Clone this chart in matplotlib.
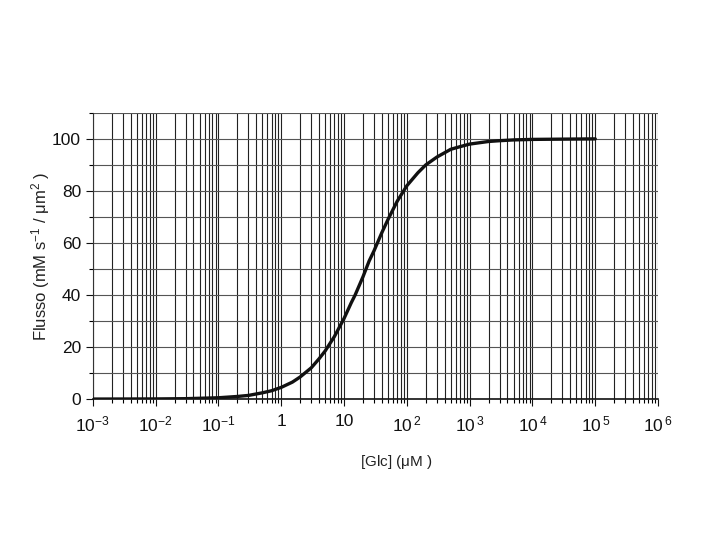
import numpy as np
import matplotlib.pyplot as plt
from matplotlib.ticker import LogLocator, FixedLocator, MultipleLocator, NullFormatter

plt.rcParams['font.family'] = ['Liberation Sans', 'DejaVu Sans']
plt.rcParams['mathtext.fontset'] = 'custom'
plt.rcParams['mathtext.rm'] = 'Liberation Sans'
plt.rcParams['mathtext.it'] = 'Liberation Sans'

# valori: [Glc] (uM) vs flusso
glc = [0.001, 0.003, 0.01, 0.03, 0.1, 0.2, 0.3, 0.5, 0.7, 1, 1.5, 2, 3, 4, 5, 7,
       10, 13, 15, 20, 25, 30, 40, 50, 70, 100, 150, 200, 300, 500, 700,
       1000, 2000, 3000, 5000, 1e4, 3e4, 1e5]
flusso = [0.0, 0.02, 0.05, 0.15, 0.5, 1.0, 1.4, 2.4, 3.2, 4.5, 6.5, 8.5, 12, 15.5,
          18.5, 24, 31, 37, 40, 47, 53, 57, 64, 69, 76, 82, 87, 90, 93, 96, 97,
          98, 99, 99.3, 99.6, 99.8, 99.9, 100]

xtick_pos = [1e-3, 1e-2, 1e-1, 1, 10, 1e2, 1e3, 1e4, 1e5, 1e6]
xtick_lab = ['$10^{-3}$', '$10^{-2}$', '$10^{-1}$', '1', '10',
             '$10^{\\,2}$', '$10^{\\,3}$', '$10^{\\,4}$', '$10^{\\,5}$', '$10^{\\,6}$']
ytick_pos = [0, 20, 40, 60, 80, 100]

fig = plt.figure(figsize=(7.2, 5.4), dpi=100)
ax = fig.add_axes([0.129, 0.261, 0.785, 0.530])

ax.plot(glc, flusso, color='#111111', lw=2.4, solid_capstyle='round',
        solid_joinstyle='round', zorder=3)

ax.set_xscale('log')
ax.set_xlim(1e-3, 1e6)
ax.set_ylim(0, 110)

ax.xaxis.set_major_locator(FixedLocator(xtick_pos))
ax.set_xticklabels(xtick_lab)
ax.xaxis.set_minor_locator(LogLocator(base=10, subs=np.arange(2, 10), numticks=20))
ax.xaxis.set_minor_formatter(NullFormatter())
ax.set_yticks(ytick_pos)
ax.yaxis.set_minor_locator(MultipleLocator(10))

ax.grid(True, which='both', axis='x', color='#222222', lw=0.8)
ax.grid(True, which='both', axis='y', color='#555555', lw=0.8)
ax.set_axisbelow(True)

for s in ['top', 'right']:
    ax.spines[s].set_visible(False)
ax.spines['left'].set_color('#333333')
ax.spines['bottom'].set_color('#111111')
ax.spines['bottom'].set_linewidth(1.2)

ax.tick_params(axis='both', which='major', direction='out', length=5, width=0.8,
               labelsize=12.5, colors='#111111')
ax.tick_params(axis='both', which='minor', direction='out', length=3, width=0.8)
ax.tick_params(axis='x', which='major', pad=6)

ax.set_ylabel('Flusso (mM s$^{-1}$ / $\\mu$m$^{2}$ )', fontsize=12, color='#222222', labelpad=0)
ax.set_xlabel('[Glc] ($\\mu$M )', fontsize=11, color='#222222')
ax.xaxis.set_label_coords((396 - 93) / 565, -0.19)

fig.savefig('out.png', dpi=100)
